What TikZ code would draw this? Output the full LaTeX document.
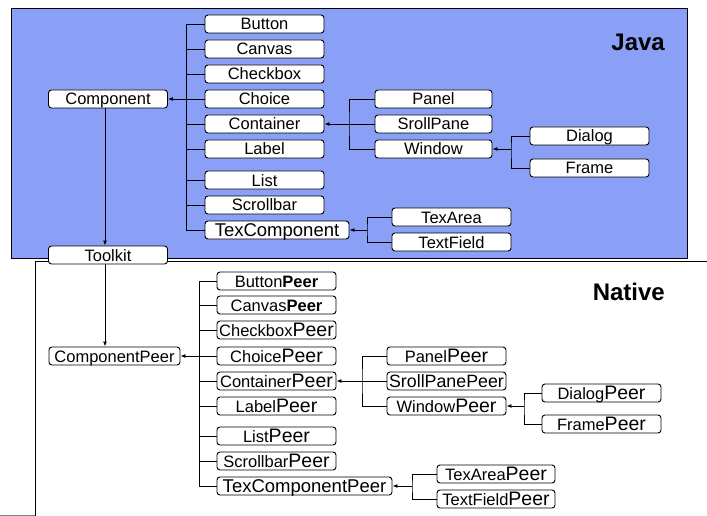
\documentclass[tikz,border=0pt]{standalone}
\usepackage{fontspec}
\setmainfont{Liberation Sans}
\usetikzlibrary{arrows.meta,positioning}
\definecolor{javablue}{RGB}{138,160,246}
\newcommand{\bigpeer}{{\fontsize{19.5}{19.5}\selectfont Peer}}
\newcommand{\boldpeer}{\textbf{Peer}}

\begin{document}
\begin{tikzpicture}[x=1pt, y=-1pt,
    cls/.style={rectangle, draw, fill=white, rounded corners=3pt, line width=0.9pt,
        minimum width=119pt, minimum height=18pt, inner sep=0pt,
        text height=14pt, text depth=2pt, font=\fontsize{16.5}{16.5}\selectfont},
    big/.style={font=\fontsize{18.5}{18.5}\selectfont},
    link/.style={draw, line width=0.9pt},
    tip/.style={link, -{Latex[length=5pt,width=4pt]}},
    title/.style={anchor=east, inner sep=0pt, font=\bfseries\fontsize{24}{24}\selectfont}]
    \useasboundingbox (0,0) rectangle (707,516);

    % the two layers
    \draw[line width=0.9pt, fill=javablue] (11,8) rectangle (687,258);
    \draw[line width=0.9pt] (707,261) -- (35,261) -- (35,516);
    \draw[line width=0.9pt, gray] (0,515) -- (35,515);
    \node[title] (java) at (665,42) {Java};
    \node[title] (native) at (665,292) {Native};

    % java classes
    \def\cx{264.5}
    \node(comp) [cls] at (108,99) {Component};
    \node(toolkit) [cls] at (108,255) {Toolkit};
    \node(btn) [cls] at (\cx,24) {Button};
    \node(cnv) [cls] at (\cx,49) {Canvas};
    \node(chk) [cls] at (\cx,74) {Checkbox};
    \node(cho) [cls] at (\cx,99) {Choice};
    \node(cnt) [cls] at (\cx,124) {Container};
    \node(lbl) [cls] at (\cx,149) {Label};
    \node(lst) [cls] at (\cx,180) {List};
    \node(scr) [cls] at (\cx,205) {Scrollbar};
    \node(txc) [cls, big, minimum width=144pt] at (277,230) {TexComponent};
    \node(panel) [cls, minimum width=117pt] at (433.5,99) {Panel};
    \node(sroll) [cls, minimum width=117pt] at (433.5,124) {SrollPane};
    \node(window) [cls, minimum width=117pt] at (433.5,149) {Window};
    \node(dialog) [cls] at (589.5,136) {Dialog};
    \node(frame) [cls] at (589.5,168) {Frame};
    \node(texarea) [cls] at (451.5,217) {TexArea};
    \node(textfield) [cls] at (451.5,242) {TextField};

    % native peers
    \def\px{276.5}
    \node(compP) [cls, minimum width=131pt] at (114.5,356) {ComponentPeer};
    \node(btnP) [cls] at (\px,281) {Button\boldpeer};
    \node(cnvP) [cls] at (\px,305) {Canvas\boldpeer};
    \node(chkP) [cls] at (\px,330) {Checkbox\bigpeer};
    \node(choP) [cls] at (\px,356) {Choice\bigpeer};
    \node(cntP) [cls] at (\px,381) {Container\bigpeer};
    \node(lblP) [cls] at (\px,406) {Label\bigpeer};
    \node(lstP) [cls] at (\px,436) {List\bigpeer};
    \node(scrP) [cls] at (\px,461) {Scrollbar\bigpeer};
    \node(txcP) [cls, big, minimum width=175pt] at (304.5,486) {TexComponentPeer};
    \node(panelP) [cls] at (446.5,356) {Panel\bigpeer};
    \node(srollP) [cls, font=\fontsize{17.8}{17.8}\selectfont] at (446.5,381) {SrollPanePeer};
    \node(windowP) [cls] at (446.5,406) {Window\bigpeer};
    \node(dialogP) [cls] at (601.5,393) {Dialog\bigpeer};
    \node(frameP) [cls] at (601.5,424) {Frame\bigpeer};
    \node(texareaP) [cls, minimum width=118pt] at (496,474) {TexArea\bigpeer};
    \node(textfieldP) [cls, minimum width=118pt] at (496,499) {TextField\bigpeer};

    % java links
    \coordinate (jtrunk) at (186,0);
    \foreach \n in {btn,cnv,chk,cho,cnt,lbl,lst,scr,txc}
        \draw[link] (\n.west) -- (\n.west -| jtrunk);
    \draw[link] (btn.west -| jtrunk) -- (txc.west -| jtrunk);
    \draw[tip] (cho.west -| jtrunk) -- (comp.east);
    \coordinate (ctrunk) at (349,124);
    \draw[link] (panel.west) -| (ctrunk) |- (window.west);
    \draw[link] (sroll.west) -- (ctrunk);
    \draw[tip] (ctrunk) -- (cnt.east);
    \coordinate (wtrunk) at (511,149);
    \draw[link] (dialog.west) -| (wtrunk) |- (frame.west);
    \draw[tip] (wtrunk) -- (window.east);
    \coordinate (ttrunk) at (367,230);
    \draw[link] (texarea.west) -| (ttrunk) |- (textfield.west);
    \draw[tip] (ttrunk) -- (txc.east);
    \draw[tip] (comp.south -| 105,0) -- (toolkit.north -| 105,0);
    \draw[tip] (toolkit.south -| 105,0) -- (compP.north -| 105,0);

    % native links
    \coordinate (ptrunk) at (199,0);
    \foreach \n in {btnP,cnvP,chkP,choP,cntP,lblP,lstP,scrP,txcP}
        \draw[link] (\n.west) -- (\n.west -| ptrunk);
    \draw[link] (btnP.west -| ptrunk) -- (txcP.west -| ptrunk);
    \draw[tip] (choP.west -| ptrunk) -- (compP.east);
    \coordinate (cptrunk) at (362,381);
    \draw[link] (panelP.west) -| (cptrunk) |- (windowP.west);
    \draw[link] (srollP.west) -- (cptrunk);
    \draw[tip] (cptrunk) -- (cntP.east);
    \coordinate (wptrunk) at (524,406);
    \draw[link] (dialogP.west) -| (wptrunk) |- (frameP.west);
    \draw[tip] (wptrunk) -- (windowP.east);
    \coordinate (tptrunk) at (412,486);
    \draw[link] (texareaP.west) -| (tptrunk) |- (textfieldP.west);
    \draw[tip] (tptrunk) -- (txcP.east);
\end{tikzpicture}
\end{document}
